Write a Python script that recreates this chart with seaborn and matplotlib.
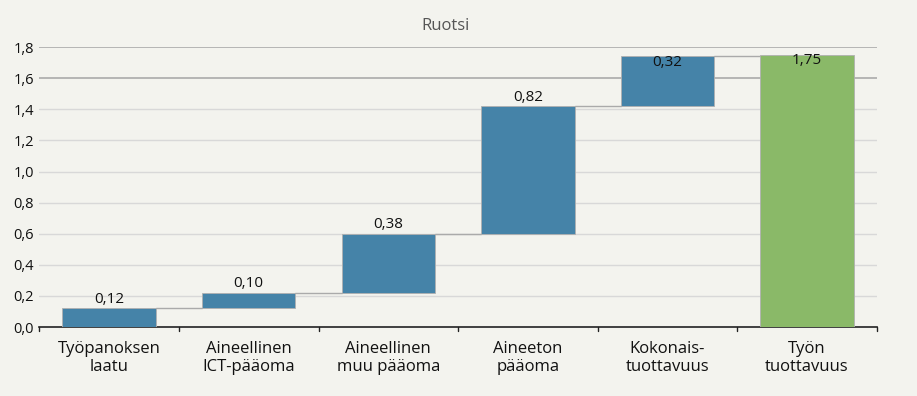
import seaborn as sns
import matplotlib.pyplot as plt
import pandas as pd

categories = ["Työpanoksen\nlaatu", "Aineellinen\nICT-pääoma", "Aineellinen\nmuu pääoma",
              "Aineeton\npääoma", "Kokonais-\ntuottavuus", "Työn\ntuottavuus"]
values = [0.12, 0.10, 0.38, 0.82, 0.32, 1.75]
bottoms = [0.0, 0.12, 0.22, 0.60, 1.42, 0.0]
labels = ["0,12", "0,10", "0,38", "0,82", "0,32", "1,75"]
yticks = [0.0, 0.2, 0.4, 0.6, 0.8, 1.0, 1.2, 1.4, 1.6, 1.8]

bg = "#f3f3ee"
blue = "#4583a8"
green = "#8ab968"

sns.set_theme(style="white")
plt.rcParams["font.family"] = ["Open Sans", "DejaVu Sans"]

df = pd.DataFrame({"cat": categories, "val": values})

fig, ax = plt.subplots(figsize=(9.17, 3.96), dpi=100)
fig.patch.set_facecolor(bg)
ax.set_facecolor(bg)
fig.subplots_adjust(left=0.043, right=0.956, top=0.881, bottom=0.174)

sns.barplot(data=df, x="cat", y="val", hue="cat", order=categories,
            palette=[blue] * 5 + [green], legend=False, width=0.67,
            edgecolor="#b0b0b0", linewidth=0.6, saturation=1, ax=ax, zorder=3)

for p, b in zip(ax.patches, bottoms):
    p.set_y(b)

# connectors
for i in range(len(values) - 1):
    top = bottoms[i] + values[i]
    ax.plot([i + 0.335, i + 1 - 0.335], [top, top], color="#aaaaaa", lw=1, zorder=2)

for i, (b, v, t) in enumerate(zip(bottoms, values, labels)):
    top = b + v
    if top + 0.12 > 1.8:
        ax.text(i, top + 0.01, t, ha="center", va="top", fontsize=11, color="#111111", zorder=4)
    else:
        ax.text(i, top + 0.01, t, ha="center", va="bottom", fontsize=11, color="#111111", zorder=4)

ax.set_ylim(0, 1.8)
ax.set_xlim(-0.5, 5.5)
ax.set_yticks(yticks)
ax.set_yticklabels([f"{y:.1f}".replace(".", ",") for y in yticks], fontsize=10.5, color="#111111")
for y in yticks[1:]:
    c = "#aaaaaa" if y >= 1.6 else "#d8d8d8"
    ax.axhline(y, color=c, lw=1.2 if y >= 1.6 else 1, zorder=1)

ax.set_xticks(range(len(categories)))
ax.set_xticklabels(categories, fontsize=12, color="#111111", linespacing=1.2)
ax.tick_params(axis="x", length=0, pad=10)
ax.tick_params(axis="y", length=0, pad=4)
for x in [i - 0.5 for i in range(7)]:
    ax.plot([x, x], [0, -0.025], color="#222222", lw=1, clip_on=False, zorder=5)

ax.set_xlabel("")
ax.set_ylabel("")
ax.set_title("Ruotsi", fontsize=12, color="#555555", pad=12, x=0.485)
for s in ["top", "right", "left"]:
    ax.spines[s].set_visible(False)
ax.spines["bottom"].set_color("#222222")
ax.spines["bottom"].set_linewidth(1.2)

plt.savefig("out.png", dpi=100, facecolor=bg)
